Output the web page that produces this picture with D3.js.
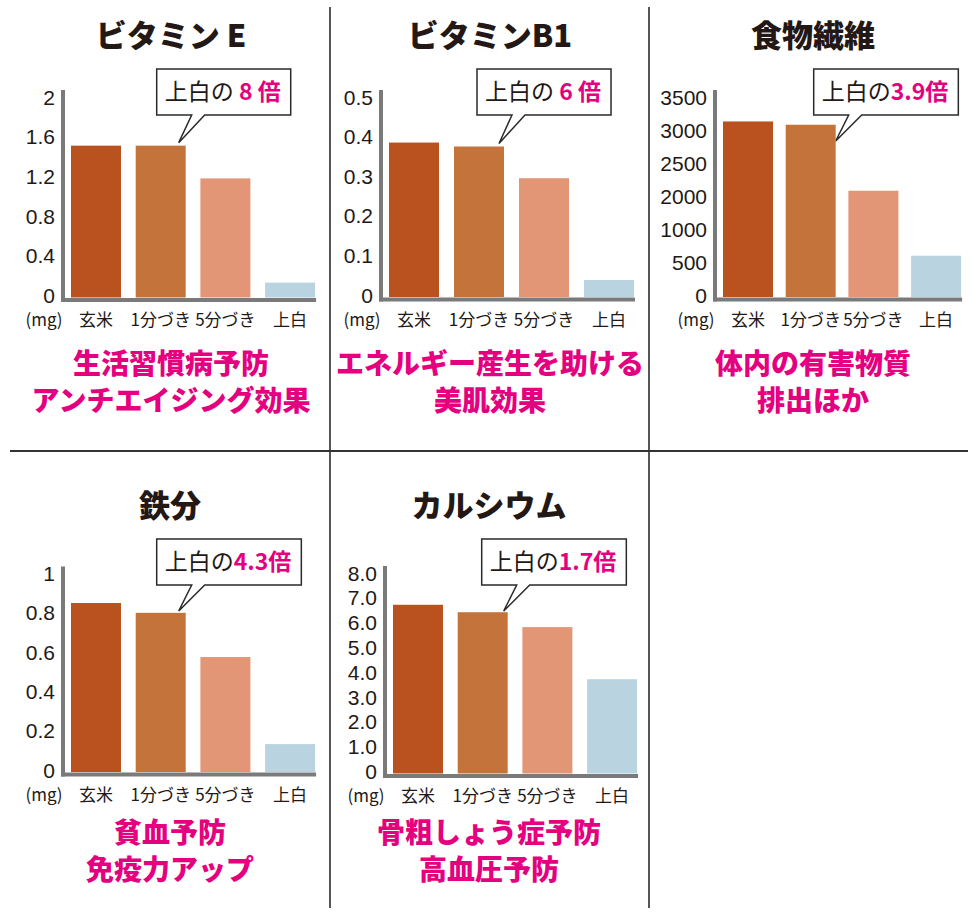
<!DOCTYPE html>
<html><head><meta charset="utf-8">
<script src="https://cdn.jsdelivr.net/npm/d3@7"></script>
<style>body{margin:0;background:#fff} svg{display:block}</style>
</head><body><svg id="c" width="978" height="913"></svg>
<script>
// ---- data ----
const categories = ["玄米", "1分づき", "5分づき", "上白"];
const titles = ["ビタミン E", "ビタミンB1", "食物繊維", "鉄分", "カルシウム"];
const vitaminE = [1.53, 1.53, 1.2, 0.15];
const vitaminB1 = [0.39, 0.38, 0.3, 0.043];
const fiber = [3160, 3110, 2110, 625];
const iron = [0.86, 0.81, 0.585, 0.142];
const calcium = [6.8, 6.5, 5.9, 3.8];
const vitaminETicks = [0, 0.4, 0.8, 1.2, 1.6, 2];
const vitaminB1Ticks = [0, 0.1, 0.2, 0.3, 0.4, 0.5];
const fiberTicks = [0, 500, 1000, 2000, 2500, 3000, 3500];
const ironTicks = [0, 0.2, 0.4, 0.6, 0.8, 1];
const calciumTicks = [0, 1, 2, 3, 4, 5, 6, 7, 8];
const calciumTickLabels = ["0", "1.0", "2.0", "3.0", "4.0", "5.0", "6.0", "7.0", "8.0"];
const ratios = [" 8 倍", " 6 倍", "3.9倍", "4.3倍", "1.7倍"];
const benefits = [
  ["生活習慣病予防", "アンチエイジング効果"],
  ["エネルギー産生を助ける", "美肌効果"],
  ["体内の有害物質", "排出ほか"],
  ["貧血予防", "免疫力アップ"],
  ["骨粗しょう症予防", "高血圧予防"]
];
const unitLabel = "(mg)";

// ---- layout (positions only) ----
const layout = [
  {ox: 0,   axisX: 63,  yTop: 99,    yZero: 297.5, row: 0, cx: 171, step: 64.7, tipDx: -7},
  {ox: 330, axisX: 381, yTop: 99,    yZero: 297,   row: 0, cx: 490, step: 65,   tipDx: -5},
  {ox: 650, axisX: 715, yTop: 99,    yZero: 297,   row: 0, cx: 813, step: 62.7, tipDx: 0},
  {ox: 0,   axisX: 63,  yTop: 575.5, yZero: 772,   row: 1, cx: 170, step: 64.7, tipDx: -7},
  {ox: 330, axisX: 385, yTop: 575,   yZero: 773.5, row: 1, cx: 489, step: 64.7, tipDx: -4}
];
const rowY = [0, 470];
const seriesList = [vitaminE, vitaminB1, fiber, iron, calcium];
const tickList = [vitaminETicks, vitaminB1Ticks, fiberTicks, ironTicks, calciumTicks];
const tickLabelList = [null, null, null, null, calciumTickLabels];
const colors = ["#b9521f", "#c4743a", "#e29676", "#b9d3e0"];
const MAGENTA = "#e4007f", INK = "#231815", AXIS = "#7a7a7a";
const FONT = "'Noto Sans CJK JP', 'Noto Sans', sans-serif";
const NUMFONT = "'Liberation Sans', Arial, sans-serif";

const svg = d3.select("#c");
svg.append("rect").attr("width", 978).attr("height", 913).attr("fill", "#fff");

// grid separators
svg.append("line").attr("x1", 330).attr("x2", 330).attr("y1", 7).attr("y2", 908).attr("stroke", "#555").attr("stroke-width", 2);
svg.append("line").attr("x1", 649).attr("x2", 649).attr("y1", 7).attr("y2", 908).attr("stroke", "#555").attr("stroke-width", 2);
svg.append("line").attr("x1", 10).attr("x2", 968).attr("y1", 451).attr("y2", 451).attr("stroke", "#333").attr("stroke-width", 2);

layout.forEach((L, i) => {
  const values = seriesList[i];
  const ticks = tickList[i];
  const labels = tickLabelList[i];
  const base = rowY[L.row];
  const g = svg.append("g");

  const step = L.step, bw = 50;
  const x = d3.scaleBand().domain(categories)
    .range([L.axisX + 8, L.axisX + 8 + 3 * step + bw])
    .paddingInner((step - bw) / step).paddingOuter(0);

  let y;
  if (i === 2) {
    y = d3.scaleLinear().domain(ticks)
      .range(ticks.map((_, k) => L.yZero + (L.yTop - L.yZero) * k / (ticks.length - 1)));
  } else {
    y = d3.scaleLinear().domain([0, ticks[ticks.length - 1]]).range([L.yZero, L.yTop]);
  }

  // title
  g.append("text").attr("x", L.cx).attr("y", base + 33).attr("text-anchor", "middle")
    .attr("dominant-baseline", "central").attr("font-family", FONT).attr("font-weight", 900)
    .attr("font-size", 31).attr("fill", INK).text(titles[i]);

  // bars
  g.selectAll("rect.bar").data(values).join("rect").attr("class", "bar")
    .attr("x", (d, k) => x(categories[k])).attr("width", x.bandwidth())
    .attr("y", d => y(d)).attr("height", d => L.yZero - y(d))
    .attr("fill", (d, k) => colors[k]);

  // y axis
  const axis = d3.axisLeft(y).tickValues(ticks).tickSize(0).tickPadding(8)
    .tickFormat((d, k) => labels ? labels[k] : String(d));
  const ag = g.append("g").attr("transform", `translate(${L.axisX},0)`).call(axis);
  ag.select(".domain").remove();
  ag.selectAll("text").attr("font-family", NUMFONT).attr("font-size", 21).attr("fill", INK)
    .attr("font-weight", 400).attr("dy", "0.36em").attr("y", -2.5);

  // axis lines
  const right = x(categories[3]) + x.bandwidth() + 1;
  g.append("line").attr("x1", L.axisX).attr("x2", L.axisX).attr("y1", L.yTop - 9).attr("y2", L.yZero + 4.5)
    .attr("stroke", AXIS).attr("stroke-width", 4);
  g.append("line").attr("x1", L.axisX - 2).attr("x2", right).attr("y1", L.yZero + 2.5).attr("y2", L.yZero + 2.5)
    .attr("stroke", AXIS).attr("stroke-width", 4);

  // category labels
  const xa = d3.axisBottom(x).tickSize(0).tickPadding(0);
  const xg = g.append("g").attr("transform", `translate(0,${L.yZero + 23})`).call(xa);
  xg.select(".domain").remove();
  xg.selectAll("text").attr("font-family", FONT).attr("font-size", 17).attr("fill", INK)
    .attr("dy", "0.35em").attr("y", 0);
  g.append("text").attr("x", L.axisX - 19).attr("y", L.yZero + 23).attr("dy", "0.35em")
    .attr("text-anchor", "middle").attr("font-family", FONT).attr("font-size", 17).attr("fill", INK).text(unitLabel);

  // callout
  const boxTop = base + 69, boxH = 46;
  const tipX = x(categories[1]) + x.bandwidth() + L.tipDx;
  const tipY = Math.max(y(values[1]) - 3, boxTop + boxH + 26);
  const boxL = tipX - 22;
  const t = g.append("text").attr("y", boxTop + boxH / 2).attr("dy", "0.36em")
    .attr("font-family", FONT).attr("font-size", 23).attr("fill", INK).attr("xml:space", "preserve");
  t.append("tspan").text("上白の");
  t.append("tspan").attr("fill", MAGENTA).attr("font-weight", 700).text(ratios[i]);
  const tw = t.node().getComputedTextLength();
  const pad = 8;
  const boxW = tw + pad * 2 + 2;
  t.attr("x", boxL + pad);
  const p = d3.path();
  p.moveTo(boxL, boxTop); p.lineTo(boxL + boxW, boxTop); p.lineTo(boxL + boxW, boxTop + boxH);
  p.lineTo(tipX + 26, boxTop + boxH); p.lineTo(tipX, tipY); p.lineTo(tipX + 13, boxTop + boxH);
  p.lineTo(boxL, boxTop + boxH); p.closePath();
  g.insert("path", "text").attr("d", p.toString()).attr("fill", "#fff").attr("stroke", "#2a2a2a").attr("stroke-width", 1.5);
  t.raise();

  // benefits
  benefits[i].forEach((line, k) => {
    g.append("text").attr("x", L.cx).attr("y", base + 362 + k * 37 - (L.row ? 1 : 0)).attr("dominant-baseline", "central")
      .attr("text-anchor", "middle").attr("font-family", FONT).attr("font-weight", 900)
      .attr("font-size", 28).attr("fill", MAGENTA).text(line);
  });
});
</script></body></html>
